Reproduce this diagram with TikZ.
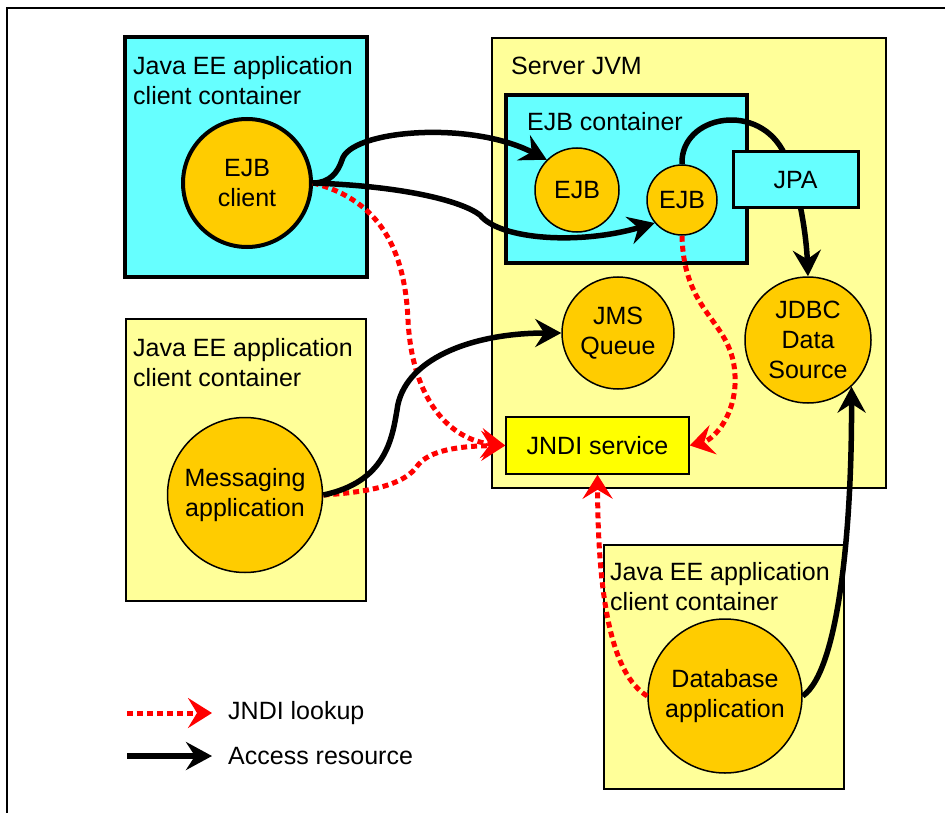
\documentclass[tikz,border=0pt]{standalone}
\usepackage{fontspec}
\setmainfont{Liberation Sans}
\usetikzlibrary{arrows.meta}
\definecolor{paleyellow}{HTML}{FFFF99}
\definecolor{aqua}{HTML}{66FFFF}
\definecolor{amber}{HTML}{FFCC00}
\definecolor{brightyellow}{HTML}{FFFF00}

\begin{document}
\begin{tikzpicture}[x=1pt,y=-1pt,
    font=\fontsize{25}{30}\selectfont,
    container/.style={rectangle,draw,line width=1.5pt,fill=paleyellow},
    aquabox/.style={container,fill=aqua,line width=4pt},
    bean/.style={circle,draw,line width=1.5pt,fill=amber,inner sep=0pt,align=center},
    boxtitle/.style={anchor=north west,inner sep=0pt,align=left},
    access/.style={-{Stealth[length=26pt,width=28pt,inset=9pt]},line width=5.5pt},
    lookup/.style={-{Stealth[length=24pt,width=30pt,inset=9pt]},red,line width=5pt,dash pattern=on 6pt off 4pt}]

\useasboundingbox (0,0) rectangle (945,813);
\draw[line width=1.5pt] (7,813) -- (7,8) -- (945,8);

% Server side
\node[container,minimum width=394pt,minimum height=450pt] (server) at (689,263) {};
\node[boxtitle] (servertitle) at (511,57) {Server JVM};
\node[aquabox,minimum width=241pt,minimum height=168pt] (ejbcont) at (626.5,179) {};
\node[boxtitle] (ejbconttitle) at (527,112) {EJB container};
\node[container,fill=brightyellow,minimum width=183pt,minimum height=57pt] (jndi) at (597.5,445.5) {JNDI service};

% Client containers
\node[aquabox,minimum width=242pt,minimum height=240pt] (clientbox) at (246,157) {};
\node[boxtitle] (clienttitle) at (133,56) {Java EE application\\client container};
\node[container,minimum width=240pt,minimum height=282pt] (msgbox) at (246,460) {};
\node[boxtitle] (msgtitle) at (133,338) {Java EE application\\client container};
\node[container,minimum width=240pt,minimum height=244pt] (dbbox) at (724,667) {};
\node[boxtitle] (dbtitle) at (610,562) {Java EE application\\client container};

% Components
\node[bean,line width=4pt,minimum size=128pt] (ejbclient) at (247,183) {EJB\\client};
\node[bean,minimum size=155pt] (msgapp) at (245,495) {Messaging\\application};
\node[bean,minimum size=154pt] (dbapp) at (725,696) {Database\\application};
\node[bean,minimum size=84pt] (ejb1) at (577,190) {EJB};
\node[bean,minimum size=70pt] (ejb2) at (682,200) {EJB};
\node[bean,minimum size=112pt] (jms) at (618,333) {JMS\\Queue};
\node[bean,minimum size=126pt] (jdbc) at (808,340) {JDBC\\Data\\Source};

% JNDI lookups
\draw[lookup] (ejbclient.east) .. controls (380,200) and (405,250) .. (408,320)
  .. controls (412,400) and (450,440) .. (jndi.west);
\draw[lookup] (msgapp.east) .. controls (370,492) and (405,485) .. (418,465)
  .. controls (430,450) and (460,446) .. (jndi.west);
\draw[lookup] (ejb2.south) .. controls (684,320) and (738,320) .. (735,385)
  .. controls (733,420) and (712,440) .. (jndi.east);
\draw[lookup] (dbapp.west) .. controls (612,675) and (598,600) .. (jndi.south);

% Resource access
\draw[access] (ejbclient.east) .. controls (330,183) and (338,172) .. (342,160)
  .. controls (350,130) and (470,120) .. (ejb1.135);
\draw[access] (ejbclient.east) .. controls (400,186) and (460,200) .. (480,215)
  .. controls (500,240) and (580,245) .. (ejb2.220);
\draw[access] (msgapp.east) .. controls (385,482) and (392,440) .. (397,410)
  .. controls (403,360) and (470,333) .. (jms.west);
\draw[access] (dbapp.east) .. controls (840,670) and (852,520) .. (jdbc.-47);
\draw[access] (ejb2.north) .. controls (680,115) and (760,100) .. (785,155)
  .. controls (798,185) and (806,230) .. (jdbc.north);
\node[aquabox,line width=3pt,minimum width=125pt,minimum height=56pt] (jpa) at (795.5,180) {JPA};

% Legend
\coordinate (lookupstart) at (127,713);
\coordinate (lookupend) at (212,713);
\node[anchor=west,inner sep=0pt] (lookupkey) at (228,713) {JNDI lookup};
\draw[lookup] (lookupstart) -- (lookupend);
\coordinate (accessstart) at (127,756);
\coordinate (accessend) at (212,756);
\node[anchor=west,inner sep=0pt] (accesskey) at (228,756) {Access resource};
\draw[access] (accessstart) -- (accessend);

\end{tikzpicture}
\end{document}
